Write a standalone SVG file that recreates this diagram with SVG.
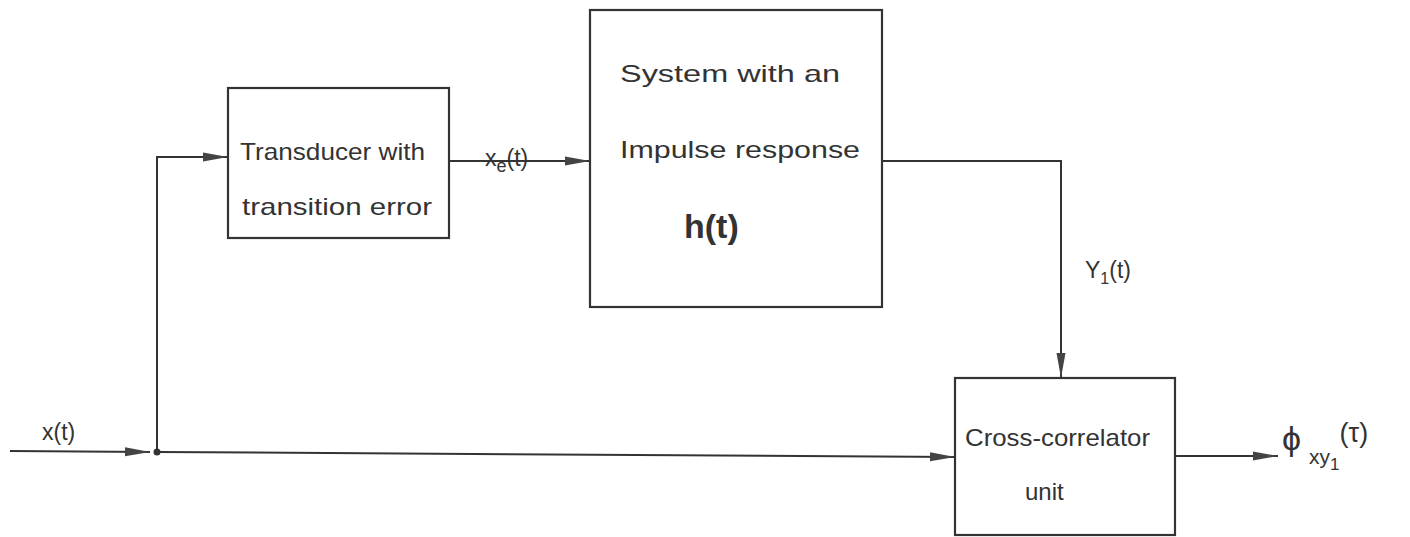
<svg xmlns="http://www.w3.org/2000/svg" width="1410" height="537" viewBox="0 0 1410 537">
<style>
.box{fill:#fff;stroke:#333;stroke-width:2.2}
.ln{fill:none;stroke:#333;stroke-width:2}
.t{font-family:"Liberation Sans",Arial,sans-serif;font-size:24px;fill:#333}
</style>
<defs>
<marker id="ar" markerWidth="26" markerHeight="12" refX="25" refY="6" orient="auto" markerUnits="userSpaceOnUse">
<path d="M0,1.5 L25,6 L0,10.5 Z" fill="#444"/>
</marker>
</defs>
<rect width="1410" height="537" fill="#fff"/>
<g id="connectors">
<line class="ln" x1="10" y1="451" x2="150" y2="452" marker-end="url(#ar)"/>
<circle cx="157" cy="452" r="3.5" fill="#333"/>
<polyline class="ln" points="157,452 157,157 228,157" marker-end="url(#ar)"/>
<line class="ln" x1="449" y1="161" x2="590" y2="161" marker-end="url(#ar)"/>
<polyline class="ln" points="882,161 1061,161 1061,378" marker-end="url(#ar)"/>
<line class="ln" x1="157" y1="452" x2="955" y2="457" marker-end="url(#ar)"/>
<line class="ln" x1="1175" y1="456" x2="1278" y2="456" marker-end="url(#ar)"/>
<text class="t" x="42" y="440" style="font-size:23px">x(t)</text>
<text class="t" x="485" y="166" style="font-size:23px">x<tspan font-size="18" dy="6">e</tspan><tspan dy="-6">(t)</tspan></text>
<text class="t" x="1085" y="278" style="font-size:23px">Y<tspan font-size="16" dy="6">1</tspan><tspan dy="-6">(t)</tspan></text>
<text class="t" x="1282" y="450" style="font-size:34px">ϕ<tspan font-size="21" dx="8" dy="14">xy</tspan><tspan font-size="17" dy="6">1</tspan><tspan font-size="27" dy="-28">(τ)</tspan></text>
</g>
<g id="transducer">
<rect class="box" x="228" y="88" width="221" height="150"/>
<text class="t" x="240" y="160" textLength="185" lengthAdjust="spacingAndGlyphs">Transducer with</text>
<text class="t" x="242" y="215" textLength="190" lengthAdjust="spacingAndGlyphs">transition error</text>
</g>
<g id="system">
<rect class="box" x="590" y="10" width="292" height="297"/>
<text class="t" x="620" y="82" textLength="220" lengthAdjust="spacingAndGlyphs">System  with an</text>
<text class="t" x="620" y="158" textLength="240" lengthAdjust="spacingAndGlyphs">Impulse response</text>
<text class="t" x="684" y="238" style="font-size:34px;font-weight:bold">h(t)</text>
</g>
<g id="crosscorrelator">
<rect class="box" x="955" y="378" width="220" height="157"/>
<text class="t" x="965" y="446" textLength="185" lengthAdjust="spacingAndGlyphs">Cross-correlator</text>
<text class="t" x="1025" y="500">unit</text>
</g>
</svg>
